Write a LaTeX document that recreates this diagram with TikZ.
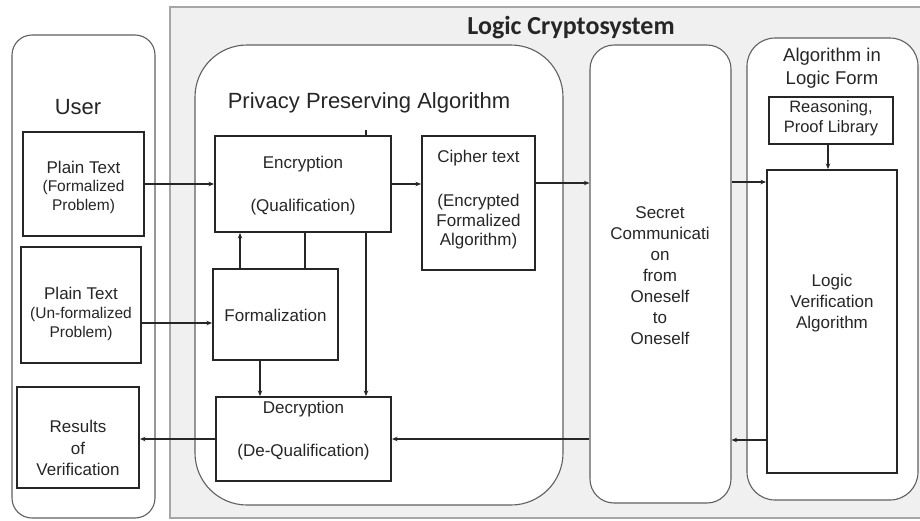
\documentclass[tikz,border=0pt]{standalone}
\usepackage{fontspec}
\setmainfont{Liberation Sans}
\newfontfamily\calib{Carlito}
\usetikzlibrary{arrows.meta,calc}
\begin{document}
\begin{tikzpicture}[x=1pt,y=-1pt,
 box/.style={draw=black!85, line width=2pt, inner sep=0pt, fill=white},
 grp/.style={draw=gray!75!black, line width=1.1pt, fill=white, inner sep=0pt},
 txt/.style={font=\fontsize{17}{20.5}\selectfont, align=center, inner sep=0pt, text=black!85},
 sub/.style={font=\fontsize{15.5}{19}\selectfont, align=center, inner sep=0pt, text=black!85},
 big/.style={font=\fontsize{22}{26}\selectfont, inner sep=0pt, text=black!85},
 arr/.style={line width=1.4pt, draw=black!85, -{Stealth[length=5.5pt,width=4.5pt]}},
 ln/.style={line width=1.4pt, draw=black!85}]
\useasboundingbox (0,0) rectangle (920,520);
% outer system
\node[draw=gray!70, line width=1.4pt, fill=black!6, inner sep=0pt, minimum width=755, minimum height=511] (sys) at (547.5,262.5) {};
\node[font=\calib\bfseries\fontsize{26}{30}\selectfont, inner sep=0pt, text=black!85] (systitle) at (571,28) {Logic Cryptosystem};
% groups
\node[grp, rounded corners=20, minimum width=143, minimum height=483] (user) at (83.5,276.5) {};
\node[grp, rounded corners=52, minimum width=368, minimum height=460] (ppa) at (379,275) {};
\node[grp, rounded corners=24, minimum width=141, minimum height=458] (sec) at (660.5,274) {};
\node[grp, rounded corners=28, minimum width=171, minimum height=462] (alf) at (832.5,269) {};
\node[big] (usertitle) at (78,107) {User};
\node[big] (ppatitle) at (369,103) {Privacy Preserving Algorithm};
\node[txt, font=\fontsize{18.5}{23}\selectfont] (alftitle) at (832,68.5) {Algorithm in\\Logic Form};
% boxes
\node[box, minimum width=121, minimum height=104] (pt1) at (83.5,184) {};
\node[box, minimum width=120, minimum height=116] (pt2) at (81,305) {};
\node[box, minimum width=122, minimum height=101] (res) at (78,437.5) {};
\node[box, minimum width=176, minimum height=96] (enc) at (303,184) {};
\node[box, minimum width=125, minimum height=91] (form) at (275.5,314.5) {};
\node[box, minimum width=175, minimum height=84] (dec) at (303.5,439) {};
\node[box, minimum width=113, minimum height=134] (ciph) at (478.5,203) {};
\node[box, minimum width=124, minimum height=47] (reas) at (831,120.5) {};
\node[box, minimum width=130, minimum height=303] (lva) at (832,321.5) {};
% texts
\node[txt] (pt1a) at (83.5,167) {Plain Text};
\node[sub] (pt1b) at (83.5,197) {(Formalized\\Problem)};
\node[txt] (pt2a) at (81,293) {Plain Text};
\node[sub] (pt2b) at (81,324) {(Un-formalized\\Problem)};
\node[txt, font=\fontsize{17}{21.5}\selectfont] (rest) at (78,448) {Results\\of\\Verification};
\node[txt] (enca) at (303,164) {Encryption};
\node[txt] (encb) at (303,207) {(Qualification)};
\node[txt] (formt) at (275.5,315) {Formalization};
\node[txt] (deca) at (303.5,409) {Decryption};
\node[txt] (decb) at (303.5,452) {(De-Qualification)};
\node[txt] (cipha) at (478.5,158) {Cipher text};
\node[txt, font=\fontsize{17}{19.5}\selectfont] (ciphb) at (478.5,222) {(Encrypted\\Formalized\\Algorithm)};
\node[txt, font=\fontsize{17}{21}\selectfont] (sect) at (660,276) {Secret\\Communicati\\on\\from\\Oneself\\to\\Oneself};
\node[txt, font=\fontsize{16.5}{20.5}\selectfont] (reast) at (831,118) {Reasoning,\\Proof Library};
\node[txt, font=\fontsize{17}{21}\selectfont] (lvat) at (832,303.5) {Logic\\Verification\\Algorithm};
% connectors
\draw[arr] (pt1.east) -- (enc.west);
\draw[arr] (enc.east) -- (enc.east -| ciph.west);
\draw[arr] (ciph.east |- 0,183) -- (sec.west |- 0,183);
\draw[arr] (sec.east |- 0,182) -- (lva.west |- 0,182);
\draw[arr] (reas.south -| 828,0) -- (lva.north -| 828,0);
\draw[arr] (pt2.east |- 0,323) -- (form.west |- 0,323);
\draw[arr] (form.north -| 240,0) -- (enc.south -| 240,0);
\draw[ln] (form.north -| 305,0) -- (enc.south -| 305,0);
\draw[arr] (enc.south -| 366,0) -- (dec.north -| 366,0);
\coordinate (tick) at (366,130);
\draw[ln] (enc.north -| 366,0) -- (tick);
\draw[arr] (form.south -| 260,0) -- (dec.north -| 260,0);
\draw[arr] (lva.west |- 0,440) -- (sec.east |- 0,440);
\draw[arr] (sec.west |- dec.east) -- (dec.east);
\draw[arr] (dec.west) -- (dec.west -| res.east);
\end{tikzpicture}
\end{document}
